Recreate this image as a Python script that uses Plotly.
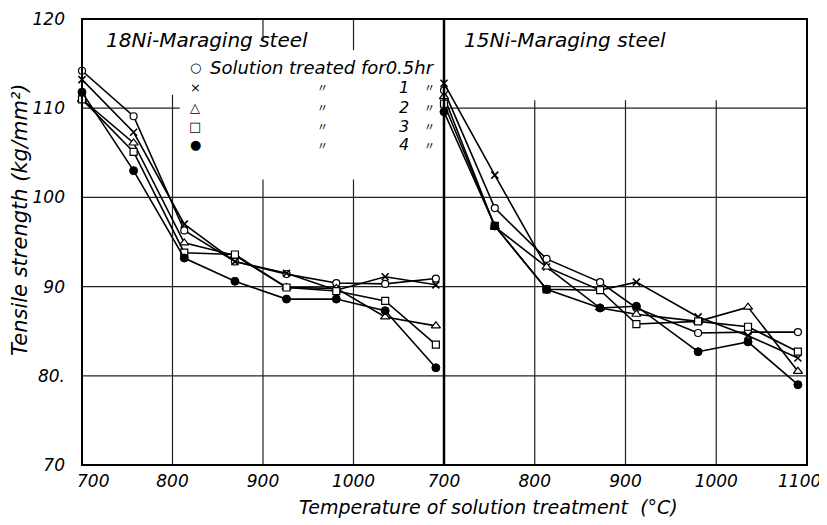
import plotly.graph_objects as go

# ---------------- data ----------------
temp_18ni = [700, 757, 813, 869, 926, 981, 1035, 1091]
ni18_05hr = [114.2, 109.1, 96.3, 92.8, 91.4, 90.4, 90.3, 90.9]
ni18_1hr = [113.2, 107.3, 97.0, 92.8, 91.5, 89.6, 91.1, 90.2]
ni18_2hr = [111.0, 106.1, 94.9, 93.5, 89.9, 89.8, 86.6, 85.6]
ni18_3hr = [111.0, 105.1, 93.8, 93.6, 89.9, 89.5, 88.4, 83.5]
ni18_4hr = [111.8, 103.0, 93.2, 90.6, 88.6, 88.6, 87.3, 80.9]

temp_15ni = [700, 756, 813, 872, 912, 980, 1035, 1090]
ni15_05hr = [112.0, 98.8, 93.1, 90.5, 87.6, 84.8, 84.9, 84.9]
ni15_1hr = [112.8, 102.5, 92.2, 89.6, 90.5, 86.6, 84.5, 82.0]
ni15_2hr = [111.3, 96.7, 92.2, 87.6, 86.9, 86.1, 87.7, 80.5]
ni15_3hr = [110.5, 96.8, 89.7, 89.6, 85.8, 86.1, 85.5, 82.7]
ni15_4hr = [109.6, 96.8, 89.7, 87.6, 87.8, 82.7, 83.8, 79.0]

series_names = ["0.5hr", "1hr", "2hr", "3hr", "4hr"]
x_ticks_left = [800, 900, 1000]
x_ticks_right = [700, 800, 900, 1000]
x_edge_labels = ["700", "1100"]
y_ticks = [70, 80, 90, 100, 110, 120]
y_ticktext = ["70", "80.", "90", "100", "110", "120"]

# ---------------- styling ----------------
FONT = "DejaVu Sans"
symbols = [
    dict(symbol="circle", color="white", size=7, line=dict(color="black", width=1.2)),
    dict(symbol="x-thin", color="black", size=7, line=dict(color="black", width=1.6)),
    dict(symbol="triangle-up", color="white", size=8, line=dict(color="black", width=1.2)),
    dict(symbol="square", color="white", size=7, line=dict(color="black", width=1.2)),
    dict(symbol="circle", color="black", size=8, line=dict(color="black", width=1)),
]

fig = go.Figure()
left_series = [ni18_05hr, ni18_1hr, ni18_2hr, ni18_3hr, ni18_4hr]
right_series = [ni15_05hr, ni15_1hr, ni15_2hr, ni15_3hr, ni15_4hr]
for name, ys, mk in zip(series_names, left_series, symbols):
    fig.add_trace(go.Scatter(x=temp_18ni, y=ys, mode="lines+markers", name=name,
                             line=dict(color="black", width=1.6), marker=mk,
                             xaxis="x", yaxis="y", showlegend=False, cliponaxis=False))
for name, ys, mk in zip(series_names, right_series, symbols):
    fig.add_trace(go.Scatter(x=temp_15ni, y=ys, mode="lines+markers", name=name,
                             line=dict(color="black", width=1.6), marker=mk,
                             xaxis="x2", yaxis="y", showlegend=False, cliponaxis=False))

OFF = 8
W, H = 827, 525
PL, PR, PT, PB = 82, 807, 19, 465          # plot frame in screen pixels
ml, mr, mt, mb = PL - OFF, W - (PR - OFF), PT - OFF, H - (PB - OFF)
split = (444 - PL) / (PR - PL)

tickfont = dict(family=FONT, size=17, color="black", style="italic")
common_x = dict(range=[700, 1100], showgrid=False, zeroline=False, showline=False, ticks="",
                tickfont=tickfont, ticklabelstandoff=4, anchor="y", automargin=False)
fig.update_layout(
    width=W, height=H, margin=dict(l=ml, r=mr, t=mt, b=mb, autoexpand=False),
    paper_bgcolor="white", plot_bgcolor="white",
    xaxis=dict(domain=[0, split], tickvals=x_ticks_left,
               ticktext=[str(v) for v in x_ticks_left], **common_x),
    xaxis2=dict(domain=[split, 1], tickvals=x_ticks_right,
                ticktext=[str(v) for v in x_ticks_right], **common_x),
    yaxis=dict(range=[70, 120], tickvals=y_ticks, ticktext=y_ticktext, showgrid=False,
               zeroline=False, showline=False, ticks="", tickfont=tickfont,
               ticklabelstandoff=16, anchor="x", automargin=False),
)

grid = dict(color="#222", width=1.2)
shapes = []
def seg(xref, x0, y0, x1, y1, line=grid):
    shapes.append(dict(type="line", xref=xref, yref="y", x0=x0, y0=y0, x1=x1, y1=y1,
                       line=line, layer="below"))
# left panel grid
seg("x", 700, 110, 808, 110)
for v in (100, 90, 80):
    seg("x", 700, v, 1100, v)
seg("x", 800, 70, 800, 111.5)
seg("x", 900, 70, 900, 102.0)
seg("x", 1000, 70, 1000, 102.0)
seg("x", 900, 117.6, 900, 120)
seg("x", 1000, 116.5, 1000, 120)
# right panel grid
for v in (110, 100, 90, 80):
    seg("x2", 700, v, 1100, v)
for v in (800, 900, 1000):
    seg("x2", v, 70, v, 110.9)
# frame
frame = dict(color="black", width=2)
shapes.append(dict(type="rect", xref="paper", yref="paper", x0=0, y0=0, x1=1, y1=1,
                   line=frame, layer="above"))
shapes.append(dict(type="line", xref="paper", yref="paper", x0=split, y0=0, x1=split, y1=1,
                   line=dict(color="black", width=2.5), layer="above"))
fig.update_layout(shapes=shapes)

def px(x):
    return (x - PL) / (PR - PL)
def py(y):
    return 1 - (y - PT) / (PB - PT)

ann = []
def text(x, y, s, size=18, xanchor="left", family=FONT, italic=True):
    f = dict(family=family, size=size, color="black")
    if italic:
        f["style"] = "italic"
    ann.append(dict(xref="paper", yref="paper", x=px(x), y=py(y), text=s, showarrow=False,
                    xanchor=xanchor, yanchor="middle", font=f))

# edge tick labels placed as in the original print
text(93, 481, x_edge_labels[0], size=17, xanchor="center")
text(799, 481, x_edge_labels[1], size=17, xanchor="center")

text(104, 40, "18Ni-Maraging steel", size=20)
text(462, 40, "15Ni-Maraging steel", size=20)
# legend block
legend_syms = ["○", "×", "△", "□", "●"]
rows_y = [68, 87, 107, 126, 145]
for s, yy in zip(legend_syms, rows_y):
    text(195, yy, s, size=13, xanchor="center", italic=False)
text(208, 68, "Solution treated for0.5hr", size=18)
for i, yy in enumerate(rows_y[1:]):
    text(322, yy, "〃", size=11, xanchor="center", family="Noto Sans CJK JP", italic=False)
    text(404, yy, str(i + 1), size=16, xanchor="center")
    text(429, yy, "〃", size=11, xanchor="center", family="Noto Sans CJK JP", italic=False)

text(488, 507, "Temperature of solution treatment  (°C)", size=19, xanchor="center")
ann.append(dict(xref="paper", yref="paper", x=px(20), y=py(220), text="Tensile strength (kg/mm²)",
                showarrow=False, textangle=-90, xanchor="center", yanchor="middle",
                font=dict(family=FONT, size=21, color="black", style="italic")))
fig.update_layout(annotations=ann)

fig.write_html("out.html")
